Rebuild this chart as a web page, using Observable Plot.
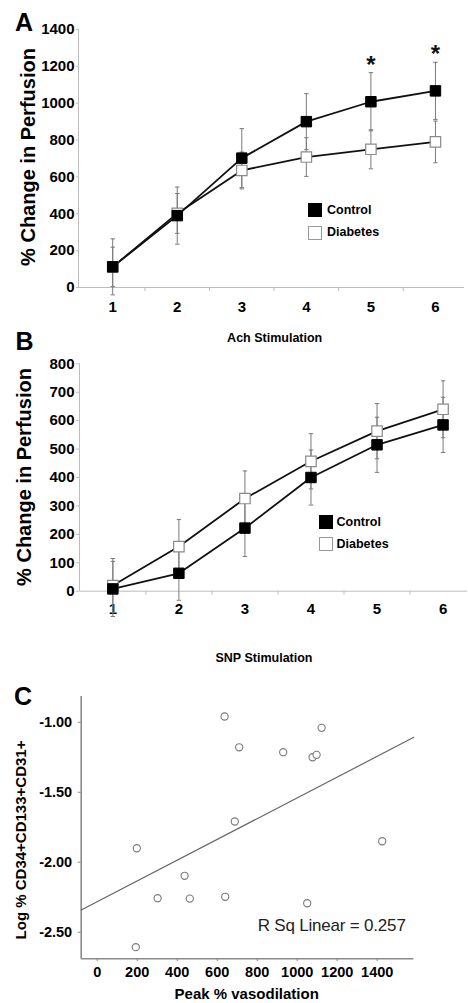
<!DOCTYPE html>
<html><head><meta charset="utf-8">
<script src="https://cdn.jsdelivr.net/npm/d3@7"></script>
<script src="https://cdn.jsdelivr.net/npm/@observablehq/plot@0.6"></script>
<style>
html,body{margin:0;padding:0;background:#fff;}
#root{position:relative;width:468px;height:1003px;overflow:hidden;font-family:"Liberation Sans",Arial,sans-serif;color:#000;}
.abs{position:absolute;white-space:nowrap;line-height:1;}
.c{transform:translate(-50%,-50%);}
.l{transform:translate(0,-50%);}
.rot{transform:translate(-50%,-50%) rotate(-90deg);}
.b{font-weight:bold;}
.sq{position:absolute;box-sizing:border-box;}
.panel{position:absolute;left:0;}
</style></head><body><div id="root"></div>
<script>
// ---------- data ----------
const stimulation = [1, 2, 3, 4, 5, 6];
// Panel A: Ach stimulation
const controlAch = [112, 390, 702, 900, 1008, 1067];
const controlAchErr = [152, 155, 160, 152, 158, 155];
const diabetesAch = [112, 402, 635, 708, 750, 790];
const diabetesAchErr = [107, 108, 100, 105, 106, 113];
const significantAch = [5, 6];
const yTicksA = [0, 200, 400, 600, 800, 1000, 1200, 1400];
// Panel B: SNP stimulation
const controlSnp = [8, 63, 222, 400, 515, 585];
const controlSnpErr = [97, 95, 100, 97, 97, 97];
const diabetesSnp = [20, 157, 326, 457, 563, 640];
const diabetesSnpErr = [95, 95, 97, 97, 97, 100];
const yTicksB = [0, 100, 200, 300, 400, 500, 600, 700, 800];
// Panel C: scatter
const peakVasodilation = [637, 710, 688, 198, 437, 302, 463, 640, 193, 1122, 930, 1077, 1097, 1425, 1050];
const logCD = [-0.959, -1.179, -1.709, -1.90, -2.097, -2.257, -2.26, -2.247, -2.607, -1.04, -1.214, -1.25, -1.233, -1.85, -2.293];
const xTicksC = [0, 200, 400, 600, 800, 1000, 1200, 1400];
const yTicksC = [-1.0, -1.5, -2.0, -2.5];
const rsqText = "R Sq Linear = 0.257";

// ---------- config ----------
const FONT = '"Liberation Sans", Arial, sans-serif';
const axisGray = "#bdbdbd";
const errGray = "#7a7a7a";
const intFmt = d3.format("d");
const capSymbol = {draw(ctx, size) { const w = Math.sqrt(size / Math.PI); ctx.moveTo(-w, 0); ctx.lineTo(w, 0); }};
const root = document.getElementById("root");

function rows(vals, errs, series) {
  return stimulation.map((s, i) => ({x: s, y: vals[i], err: errs[i], series}));
}

function linePanel({ctrl, diab, yDomain, yTicks, xDomain, width, height, mt, mb, ml, mr, ytickSize, ytickPad, xlabPad, sig}) {
  const c = rows(ctrl.v, ctrl.e, "Control");
  const d = rows(diab.v, diab.e, "Diabetes");
  const all = d.concat(c);
  const separators = stimulation.slice(1).map(s => s - 0.5);
  const marks = [
    Plot.ruleX([xDomain[0]], {stroke: axisGray, strokeWidth: 1}),
    Plot.ruleY([yDomain[0]], {stroke: axisGray, strokeWidth: 1}),
    Plot.axisY({ticks: yTicks, tickSize: ytickSize, tickPadding: ytickPad, stroke: axisGray, fill: "black", fontSize: 15, fontWeight: "bold", label: null, tickFormat: intFmt}),
    Plot.axisX({ticks: separators, tickSize: 4, stroke: axisGray, fill: "none", label: null}),
    Plot.axisX({ticks: stimulation, tickSize: 0, tickPadding: xlabPad, fill: "black", fontSize: 15, fontWeight: "bold", label: null, tickFormat: intFmt}),
    Plot.ruleX(all, {x: "x", y1: r => r.y - r.err, y2: r => r.y + r.err, stroke: errGray, strokeWidth: 1}),
    Plot.dot(all, {x: "x", y: r => r.y + r.err, symbol: capSymbol, r: 2.2, stroke: errGray, strokeWidth: 1}),
    Plot.dot(all, {x: "x", y: r => r.y - r.err, symbol: capSymbol, r: 2.2, stroke: errGray, strokeWidth: 1}),
    Plot.line(d, {x: "x", y: "y", stroke: "#111", strokeWidth: 1.8}),
    Plot.line(c, {x: "x", y: "y", stroke: "#111", strokeWidth: 1.8}),
    Plot.dot(d, {x: "x", y: "y", symbol: "square", r: 5.9, fill: "white", stroke: "#8a8a8a", strokeWidth: 1.2}),
    Plot.dot(c, {x: "x", y: "y", symbol: "square", r: 5.9, fill: "#000", stroke: "#000", strokeWidth: 1})
  ];
  if (sig) {
    marks.push(Plot.text(sig, {x: s => s, y: s => ctrl.v[s - 1] + ctrl.e[s - 1], text: () => "*", fontSize: 24, fontWeight: "bold", lineAnchor: "bottom", dy: 0, fill: "#111"}));
  }
  return Plot.plot({
    width, height, marginTop: mt, marginBottom: mb, marginLeft: ml, marginRight: mr,
    x: {type: "linear", domain: xDomain, axis: null},
    y: {domain: yDomain, axis: null},
    style: {fontFamily: FONT, color: "#000", background: "transparent", overflow: "visible"},
    marks
  });
}

const xDomainA = [0.47, 6.45];
const svgA = linePanel({
  ctrl: {v: controlAch, e: controlAchErr}, diab: {v: diabetesAch, e: diabetesAchErr},
  yDomain: [0, 1400], yTicks: yTicksA, xDomain: xDomainA,
  width: 468, height: 320, mt: 29, mb: 33, ml: 78, mr: 4, ytickSize: 2, ytickPad: 2, xlabPad: 14, sig: significantAch
});
svgA.classList.add("panel"); svgA.style.top = "0px";
root.appendChild(svgA);

const xDomainB = [0.495, 6.37];
const svgB = linePanel({
  ctrl: {v: controlSnp, e: controlSnpErr}, diab: {v: diabetesSnp, e: diabetesSnpErr},
  yDomain: [0, 800], yTicks: yTicksB, xDomain: xDomainB,
  width: 468, height: 300, mt: 33.3, mb: 39.3, ml: 79, mr: 1, ytickSize: 3, ytickPad: 2, xlabPad: 12, sig: null
});
svgB.classList.add("panel"); svgB.style.top = "330px";
root.appendChild(svgB);

// Panel C
const pts = peakVasodilation.map((x, i) => ({x, y: logCD[i]}));
const mx = d3.mean(peakVasodilation), my = d3.mean(logCD);
const slope = d3.sum(pts, p => (p.x - mx) * (p.y - my)) / d3.sum(pts, p => (p.x - mx) ** 2);
const intercept = my - slope * mx;
const xDomainC = [-80, 1583];
const yDomainC = [-2.69, -0.816];
const fit = xDomainC.map(x => ({x, y: intercept + slope * x}));
const cGray = "#8a8a8a";
const svgC = Plot.plot({
  width: 468, height: 323, marginTop: 16, marginBottom: 44.7, marginLeft: 80.7, marginRight: 54.7,
  x: {domain: xDomainC, axis: null},
  y: {domain: yDomainC, axis: null},
  style: {fontFamily: FONT, color: "#000", background: "transparent", overflow: "visible"},
  marks: [
    Plot.ruleX([xDomainC[0]], {stroke: cGray, strokeWidth: 1.6}),
    Plot.ruleY([yDomainC[0]], {stroke: cGray, strokeWidth: 1.6}),
    Plot.axisX({ticks: xTicksC, tickSize: 3, tickPadding: 5, stroke: cGray, fill: "black", fontSize: 14.5, fontWeight: "bold", label: null, tickFormat: intFmt}),
    Plot.axisY({ticks: yTicksC, tickSize: 3, tickPadding: 6, stroke: cGray, fill: "black", fontSize: 14.5, fontWeight: "bold", label: null, tickFormat: v => v.toFixed(2)}),
    Plot.line(fit, {x: "x", y: "y", stroke: "#666", strokeWidth: 1.2}),
    Plot.dot(pts, {x: "x", y: "y", r: 3.6, fill: "white", stroke: "#7a7a7a", strokeWidth: 1.1})
  ]
});
svgC.classList.add("panel"); svgC.style.top = "680px";
root.appendChild(svgC);

// ---------- text & legends ----------
function label(text, x, y, cls, size, extra = "") {
  const el = document.createElement("div");
  el.className = "abs " + cls;
  el.textContent = text;
  el.style.left = x + "px"; el.style.top = y + "px"; el.style.fontSize = size + "px";
  if (extra) el.style.cssText += extra;
  root.appendChild(el);
}
function square(x, y, s, fill, border) {
  const el = document.createElement("div");
  el.className = "sq";
  el.style.cssText += `left:${x}px;top:${y}px;width:${s}px;height:${s}px;background:${fill};border:1.5px solid ${border};`;
  root.appendChild(el);
}
label("A", 24, 22, "c b", 25);
label("B", 24.5, 341, "c b", 25);
label("C", 23, 696, "c b", 25);
label("% Change in Perfusion", 28, 157, "rot b", 20);
label("% Change in Perfusion", 24, 477, "rot b", 20);
label("Log % CD34+CD133+CD31+", 20, 840, "rot b", 15);
label("Ach Stimulation", 274.7, 337.5, "c b", 12.5);
label("SNP Stimulation", 264, 658, "c b", 12.5);
label("Peak % vasodilation", 246.7, 992.5, "c b", 15);
label(rsqText, 331.7, 925, "c", 17, "color:#222;letter-spacing:-0.2px;");

const legendSeries = ["Control", "Diabetes"];
const legendFill = ["#000", "#fff"];
const legendBorder = ["#000", "#999"];
const legendsPos = [{x: 308, y: [203, 225.5], tx: 327, ty: [210, 232]}, {x: 319, y: [515, 537], tx: 336.5, ty: [521.7, 544]}];
legendsPos.forEach(p => {
  legendSeries.forEach((s, i) => {
    square(p.x, p.y[i], 14, legendFill[i], legendBorder[i]);
    label(s, p.tx, p.ty[i], "l b", 12.5);
  });
});
</script></body></html>
